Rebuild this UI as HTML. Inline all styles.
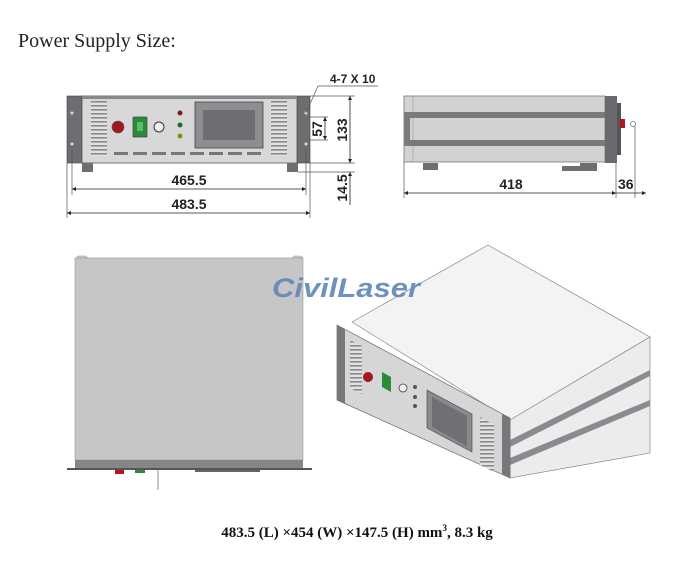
<!DOCTYPE html>
<html><head><meta charset="utf-8"><style>
html,body{margin:0;padding:0;background:#fff;width:700px;height:571px;overflow:hidden}
svg{display:block}
</style></head><body>
<svg width="700" height="571" viewBox="0 0 700 571" xmlns="http://www.w3.org/2000/svg">
<defs>
<marker id="a" viewBox="0 0 10 10" refX="10" refY="5" markerWidth="7" markerHeight="5" orient="auto-start-reverse"><path d="M0,0L10,5L0,10z" fill="#222"/></marker>
<pattern id="vent" width="16" height="4" patternUnits="userSpaceOnUse"><rect width="16" height="4" fill="#e2e2e2"/><rect y="1" width="16" height="1.6" fill="#8a8a8a"/></pattern>
</defs>
<text x="18" y="47" font-family="Liberation Serif, serif" font-size="20" fill="#222">Power Supply Size:</text>

<!-- FRONT VIEW -->
<rect x="67" y="96" width="15" height="67" fill="#6d6d72" stroke="#444" stroke-width=".6"/>
<rect x="297" y="96" width="13" height="67" fill="#6d6d72" stroke="#444" stroke-width=".6"/>
<rect x="82" y="96" width="215" height="67" fill="#d8d8d8" stroke="#555" stroke-width=".8"/>
<rect x="82" y="96" width="215" height="3" fill="#888"/>
<circle cx="72" cy="113" r="1.5" fill="#ddd"/><circle cx="72" cy="144" r="1.5" fill="#ddd"/>
<circle cx="306" cy="113" r="1.5" fill="#ddd"/><circle cx="306" cy="144" r="1.5" fill="#ddd"/>
<rect x="91" y="101" width="16" height="55" fill="url(#vent)"/>
<rect x="271" y="101" width="16" height="55" fill="url(#vent)"/>
<circle cx="118" cy="127" r="6" fill="#a01820" stroke="#555" stroke-width=".6"/>
<rect x="133" y="117" width="14" height="20" fill="#2d8a3a" stroke="#333" stroke-width=".6"/>
<rect x="137" y="122" width="6" height="9" fill="#5bbd6a"/>
<circle cx="159" cy="127" r="5" fill="#eee" stroke="#333" stroke-width="1"/>
<circle cx="180" cy="113" r="2.5" fill="#7a1a20"/><circle cx="180" cy="125" r="2.5" fill="#1f6a3a"/><circle cx="180" cy="136" r="2.5" fill="#8a8a20"/>
<rect x="195" y="102" width="68" height="46" fill="#8d8d92" stroke="#444" stroke-width=".8"/>
<rect x="203" y="110" width="52" height="30" fill="#6d6d72"/>
<g fill="#777"><rect x="114" y="152" width="14" height="3"/><rect x="133" y="152" width="14" height="3"/><rect x="152" y="152" width="14" height="3"/><rect x="171" y="152" width="14" height="3"/><rect x="190" y="152" width="14" height="3"/><rect x="209" y="152" width="14" height="3"/><rect x="228" y="152" width="14" height="3"/><rect x="247" y="152" width="14" height="3"/></g>
<rect x="82" y="163" width="11" height="9" fill="#6d6d72"/>
<rect x="287" y="163" width="11" height="9" fill="#6d6d72"/>
<g stroke="#555" stroke-width=".7" fill="none">
<line x1="72" y1="150" x2="72" y2="195"/><line x1="306" y1="150" x2="306" y2="195"/>
<line x1="67" y1="163" x2="67" y2="218"/><line x1="310" y1="163" x2="310" y2="218"/>
<line x1="310" y1="96" x2="355" y2="96"/><line x1="310" y1="163" x2="355" y2="163"/><line x1="298" y1="172" x2="355" y2="172"/>
<line x1="310" y1="117" x2="328" y2="117"/><line x1="310" y1="140" x2="328" y2="140"/>
<line x1="306" y1="113" x2="318" y2="86"/><line x1="318" y1="86" x2="378" y2="86"/>
</g>
<g stroke="#222" stroke-width=".8">
<line x1="72" y1="189" x2="306" y2="189" marker-start="url(#a)" marker-end="url(#a)"/>
<line x1="67" y1="213" x2="310" y2="213" marker-start="url(#a)" marker-end="url(#a)"/>
<line x1="325" y1="117" x2="325" y2="140" marker-start="url(#a)" marker-end="url(#a)"/>
<line x1="350" y1="96" x2="350" y2="163" marker-start="url(#a)" marker-end="url(#a)"/>
<line x1="350" y1="172" x2="350" y2="205" marker-start="url(#a)"/>
</g>
<g font-family="Liberation Sans, sans-serif" font-weight="bold" font-size="14" fill="#222">
<text x="189" y="185" text-anchor="middle">465.5</text>
<text x="189" y="209" text-anchor="middle">483.5</text>
<text x="330" y="83" font-size="12">4-7 X 10</text>
<text transform="translate(322,129) rotate(-90)" text-anchor="middle">57</text>
<text transform="translate(347,130) rotate(-90)" text-anchor="middle">133</text>
<text transform="translate(347,188) rotate(-90)" text-anchor="middle">14.5</text>
</g>

<!-- SIDE VIEW -->
<rect x="404" y="96" width="201" height="66" fill="#d2d2d2" stroke="#777" stroke-width=".8"/>
<line x1="413" y1="96" x2="413" y2="162" stroke="#999" stroke-width=".6"/>
<rect x="404" y="112" width="201" height="6" fill="#7a7a7e"/>
<rect x="404" y="140" width="201" height="6" fill="#7a7a7e"/>
<rect x="404" y="112" width="6" height="34" fill="#7a7a7e"/>
<rect x="605" y="96" width="12" height="67" fill="#6a6a6e"/>
<rect x="617" y="103" width="4" height="52" fill="#555"/>
<rect x="620" y="119" width="5" height="9" fill="#b01820"/>
<circle cx="633" cy="124" r="2.5" fill="none" stroke="#666" stroke-width=".7"/>
<rect x="423" y="163" width="15" height="7" fill="#6d6d72"/>
<rect x="562" y="166" width="35" height="5" fill="#6d6d72"/><rect x="580" y="163" width="17" height="8" fill="#6d6d72"/>
<g stroke="#555" stroke-width=".7"><line x1="404" y1="162" x2="404" y2="198"/><line x1="616" y1="163" x2="616" y2="198"/><line x1="635" y1="126" x2="635" y2="198"/></g>
<g stroke="#222" stroke-width=".8"><line x1="404" y1="193" x2="616" y2="193" marker-start="url(#a)" marker-end="url(#a)"/><line x1="616" y1="193" x2="646" y2="193" marker-end="url(#a)"/></g>
<g font-family="Liberation Sans, sans-serif" font-weight="bold" font-size="14" fill="#222"><text x="511" y="189" text-anchor="middle">418</text><text x="618" y="189">36</text></g>

<!-- TOP VIEW -->
<path d="M76,258 L78,256 L86,256 L88,258 Z" fill="#ccc" stroke="#999" stroke-width=".5"/>
<path d="M292,258 L294,256 L301,256 L303,258 Z" fill="#ccc" stroke="#999" stroke-width=".5"/>
<rect x="75" y="258" width="228" height="202" fill="#c6c6c6" stroke="#999" stroke-width=".6"/>
<rect x="75" y="460" width="228" height="9" fill="#85858a"/>
<rect x="67" y="468" width="245" height="2" fill="#555"/>
<rect x="115" y="470" width="9" height="4" fill="#b01820"/>
<rect x="135" y="470" width="10" height="3" fill="#2d8a3a"/>
<rect x="195" y="470" width="65" height="2" fill="#666"/>
<line x1="158" y1="470" x2="158" y2="490" stroke="#777" stroke-width=".8"/>

<!-- 3D VIEW -->
<polygon points="352,322 488,245 650,337 510,420" fill="#f3f3f3" stroke="#888" stroke-width=".7"/>
<polygon points="510,420 650,337 650,453 510,478" fill="#ececec" stroke="#888" stroke-width=".7"/>
<polygon points="510,440 650,370 650,376 510,447" fill="#8a8a90"/>
<polygon points="510,458 650,400 650,406 510,465" fill="#8a8a90"/>
<polygon points="337,325 510,418 510,478 337,400" fill="#d6d6d6" stroke="#666" stroke-width=".7"/>
<polygon points="337,325 345,329 345,404 337,400" fill="#77777c"/>
<polygon points="502,414 510,418 510,478 502,474" fill="#77777c"/>
<polygon points="350,340 362,346 362,394 350,388" fill="url(#vent)"/>
<polygon points="480,417 494,425 494,472 480,465" fill="url(#vent)"/>
<circle cx="368" cy="377" r="5" fill="#a01820"/>
<polygon points="382,372 391,377 391,392 382,387" fill="#2d8a3a"/>
<circle cx="403" cy="388" r="4" fill="#eee" stroke="#444" stroke-width=".8"/>
<circle cx="415" cy="387" r="2" fill="#555"/><circle cx="415" cy="397" r="2" fill="#555"/><circle cx="415" cy="406" r="2" fill="#555"/>
<polygon points="427,390 472,414 472,452 427,428" fill="#8a8a8e" stroke="#444" stroke-width=".6"/>
<polygon points="432,397 467,416 467,446 432,427" fill="#6f6f74"/>
<text x="272" y="297" font-family="Liberation Sans, sans-serif" font-weight="bold" font-style="italic" font-size="27" fill="#5f86b8" opacity=".9" textLength="148" lengthAdjust="spacingAndGlyphs">CivilLaser</text>

<text x="357" y="537" text-anchor="middle" font-family="Liberation Serif, serif" font-weight="bold" font-size="15" fill="#111">483.5 (L) ×454 (W) ×147.5 (H) mm<tspan dy="-6" font-size="9">3</tspan><tspan dy="6">, 8.3 kg</tspan></text>
</svg>
</body></html>
